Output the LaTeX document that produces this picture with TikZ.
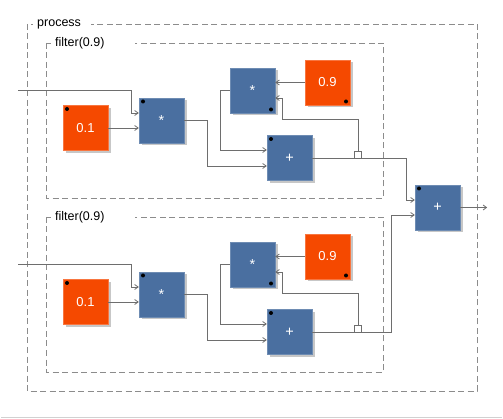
\documentclass[tikz,border=0pt]{standalone}
\usepackage{fontspec}
\setmainfont{Liberation Sans}
\usetikzlibrary{arrows.meta,shadows,calc}

\definecolor{opblue}{HTML}{4A6FA0}
\definecolor{cstorange}{HTML}{F54900}
\definecolor{wiregray}{HTML}{6E6E6E}
\definecolor{grpgray}{HTML}{8C8C8C}

\tikzset{
  blk/.style={minimum size=45pt, inner sep=0pt, text=white,
    font=\fontsize{13}{14}\selectfont,
    drop shadow={shadow xshift=2.5pt,shadow yshift=-2.5pt,fill=black!22,opacity=1}},
  op/.style={blk, fill=opblue, draw=opblue!80!white, font=\fontsize{14.5}{16}\selectfont},
  cst/.style={blk, fill=cstorange, draw=cstorange!75!white},
  dotnw/.style={path picture={\fill[black] ([xshift=4pt,yshift=-3.5pt]path picture bounding box.north west) circle (2pt);}},
  dotse/.style={path picture={\fill[black] ([xshift=-4pt,yshift=3.5pt]path picture bounding box.south east) circle (2pt);}},
  delay/.style={draw=wiregray, fill=white, minimum size=7pt, inner sep=0pt, line width=0.8pt},
  wire/.style={draw=wiregray, line width=0.8pt},
  grpbox/.style={draw=grpgray, dash pattern=on 6pt off 3.5pt, line width=0.9pt},
  grplbl/.style={anchor=west, fill=white, inner xsep=4pt, inner ysep=1pt,
    align=left, font=\fontsize{12.5}{14}\selectfont},
  >={Straight Barb[length=3.5pt,width=5pt]}
}

\begin{document}
\begin{tikzpicture}[x=1pt,y=-1pt]

\newcommand\DY{174}

  \useasboundingbox (0,0) rectangle (503,419);

  %% groups
  \draw[grpbox] (27,24) rectangle (477,391);
  \node[grplbl,text width=50pt] (plbl) at (33,24) {process};
  \draw[grpbox] (46,43) rectangle (383,198);
  \node[grplbl,text width=76pt] (flbl1) at (51,43) {filter(0.9)};
  \draw[grpbox] (46,\DY+43) rectangle (383,\DY+198);
  \node[grplbl,text width=76pt] (flbl2) at (51,\DY+43) {filter(0.9)};

  %% filter 1
  \node[cst,dotnw] (c01a) at (85.5,128) {0.1};
  \node[op,dotnw] (m1a) at (161.5,120.5) {*};
  \node[op,dotse] (m2a) at (252.5,90.5) {*};
  \node[cst,dotse] (c09a) at (327.5,82.5) {0.9};
  \node[op,dotnw] (a1a) at (289.5,158) {+};
  \node[delay] (d1a) at (358,154.5) {};
  \coordinate (ina) at (18,90);

  %% filter 2
  \node[cst,dotnw] (c01b) at (85.5,\DY+128) {0.1};
  \node[op,dotnw] (m1b) at (161.5,\DY+120.5) {*};
  \node[op,dotse] (m2b) at (252.5,\DY+90.5) {*};
  \node[cst,dotse] (c09b) at (327.5,\DY+82.5) {0.9};
  \node[op,dotnw] (a1b) at (289.5,\DY+158) {+};
  \node[delay] (d1b) at (358,\DY+154.5) {};
  \coordinate (inb) at (18,\DY+90);

  %% sum
  \node[op,dotnw] (ao) at (437.5,207.5) {+};

  %% wires filter 1
  \draw[wire,->] (ina) -| ([xshift=-7pt,yshift=7.5pt]m1a.west) -- ([yshift=7.5pt]m1a.west);
  \draw[wire,->] (c01a.east) -- (c01a.east -| m1a.west);
  \draw[wire,->] (m1a.east) -- ++(23,0) |- ([yshift=-8pt]a1a.west);
  \draw[wire,->] (m2a.west) -- ++(-9,0) |- ([yshift=8pt]a1a.west);
  \draw[wire,->] (c09a.west) -- (c09a.west -| m2a.east);
  \draw[wire,->] (a1a.east) -| ([xshift=-8pt,yshift=7.5pt]ao.west) -- ([yshift=7.5pt]ao.west);
  \draw[wire,->] (d1a.north) -- ++(0,-31) -| ([xshift=7pt,yshift=-7.5pt]m2a.east) -- ([yshift=-7.5pt]m2a.east);

  %% wires filter 2
  \draw[wire,->] (inb) -| ([xshift=-7pt,yshift=7.5pt]m1b.west) -- ([yshift=7.5pt]m1b.west);
  \draw[wire,->] (c01b.east) -- (c01b.east -| m1b.west);
  \draw[wire,->] (m1b.east) -- ++(23,0) |- ([yshift=-8pt]a1b.west);
  \draw[wire,->] (m2b.west) -- ++(-9,0) |- ([yshift=8pt]a1b.west);
  \draw[wire,->] (c09b.west) -- (c09b.west -| m2b.east);
  \draw[wire,->] (a1b.east) -| ([xshift=-23pt,yshift=-7.5pt]ao.west) -- ([yshift=-7.5pt]ao.west);
  \draw[wire,->] (d1b.north) -- ++(0,-31) -| ([xshift=7pt,yshift=-7.5pt]m2b.east) -- ([yshift=-7.5pt]m2b.east);

  %% output
  \draw[wire,->] (ao.east) -- ++(27,0);

  \draw[black!18,line width=1.5pt] (1,417.5) -- (502,417.5);

\end{tikzpicture}
\end{document}
